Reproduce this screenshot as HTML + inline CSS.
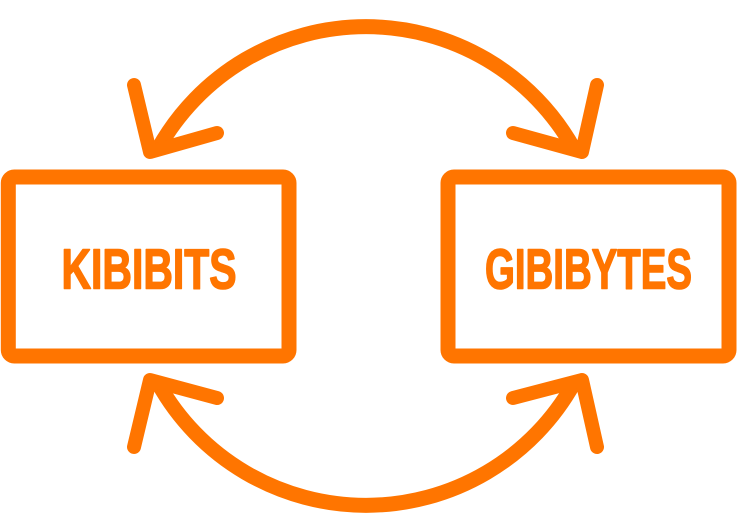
<!DOCTYPE html>
<html>
<head>
<meta charset="utf-8">
<style>
  html, body { margin: 0; padding: 0; background: #ffffff; }
  svg { display: block; }
  text { font-family: "Liberation Sans Narrow", "Liberation Sans", sans-serif; font-weight: bold; }
</style>
</head>
<body>
<svg width="737" height="532" viewBox="0 0 737 532" xmlns="http://www.w3.org/2000/svg">
  <g fill="none" stroke="#ff7500" stroke-linecap="round" stroke-linejoin="round">
    <!-- top arc -->
    <path d="M158,149 A238,238 0 0 1 574,149" stroke-width="15" stroke-linecap="butt"/>
    <!-- bottom arc -->
    <path d="M158,383 A238,238 0 0 0 574,383" stroke-width="15" stroke-linecap="butt"/>
    <!-- arrowheads -->
    <polyline points="134,85 150,152 217,133" stroke-width="14"/>
    <polyline points="597,85 582,152 513,133" stroke-width="14"/>
    <polyline points="134,447 150,380 217,398" stroke-width="14"/>
    <polyline points="597,447 582,380 513,398" stroke-width="14"/>
    <!-- boxes -->
    <rect x="8.3" y="177" width="280.7" height="179" rx="6" ry="6" stroke-width="15"/>
    <rect x="448" y="177" width="281" height="179" rx="6" ry="6" stroke-width="15"/>
  </g>
  <text x="61.5" y="288.5" font-size="57" fill="#ff7500" stroke="#ff7500" stroke-width="1.6" stroke-linejoin="round" textLength="175" lengthAdjust="spacingAndGlyphs">KIBIBITS</text>
  <text x="485" y="288.5" font-size="57" fill="#ff7500" stroke="#ff7500" stroke-width="1.6" stroke-linejoin="round" textLength="207" lengthAdjust="spacingAndGlyphs">GIBIBYTES</text>
</svg>
</body>
</html>
